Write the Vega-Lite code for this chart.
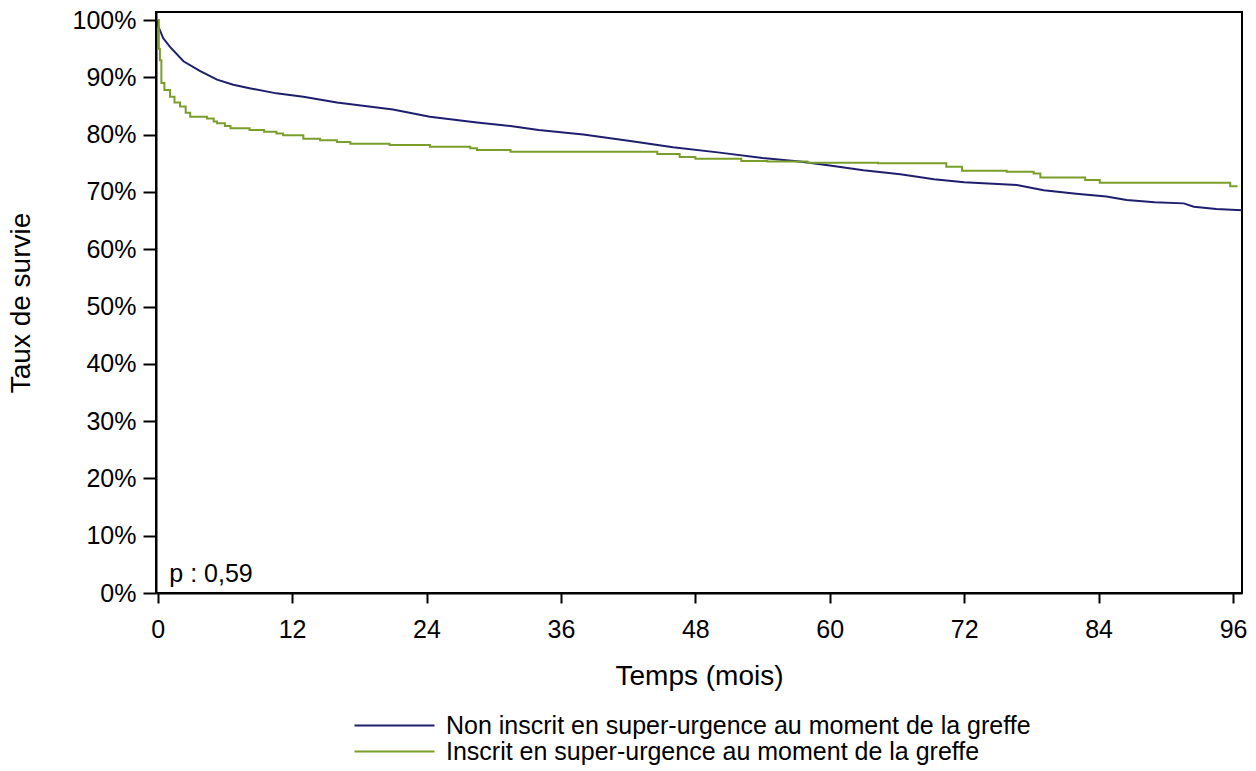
{
  "$schema": "https://vega.github.io/schema/vega-lite/v6.json",
  "autosize": "none",
  "width": 1086,
  "height": 581,
  "padding": {"left": 156, "top": 12, "right": 14, "bottom": 178},
  "background": "white",
  "config": {
    "font": "Liberation Sans",
    "view": {"stroke": "#000", "strokeWidth": 2},
    "axis": {
      "domainColor": "#000", "domainWidth": 2, "tickColor": "#000", "tickWidth": 2,
      "labelColor": "#000", "titleColor": "#000", "labelFont": "Liberation Sans", "titleFont": "Liberation Sans",
      "labelFontSize": 25, "titleFontSize": 28, "titleFontWeight": "normal", "grid": false
    },
    "legend": {"labelFont": "Liberation Sans", "labelColor": "#000"}
  },
  "datasets": {
    "courbes": [
      {"t": 0, "s": 1.0, "groupe": "Non inscrit en super-urgence au moment de la greffe"},
      {"t": 0.05, "s": 0.989, "groupe": "Non inscrit en super-urgence au moment de la greffe"},
      {"t": 0.5, "s": 0.968, "groupe": "Non inscrit en super-urgence au moment de la greffe"},
      {"t": 1.1, "s": 0.953, "groupe": "Non inscrit en super-urgence au moment de la greffe"},
      {"t": 2.3, "s": 0.928, "groupe": "Non inscrit en super-urgence au moment de la greffe"},
      {"t": 3.8, "s": 0.911, "groupe": "Non inscrit en super-urgence au moment de la greffe"},
      {"t": 5.3, "s": 0.896, "groupe": "Non inscrit en super-urgence au moment de la greffe"},
      {"t": 6.75, "s": 0.887, "groupe": "Non inscrit en super-urgence au moment de la greffe"},
      {"t": 8.2, "s": 0.881, "groupe": "Non inscrit en super-urgence au moment de la greffe"},
      {"t": 10.6, "s": 0.872, "groupe": "Non inscrit en super-urgence au moment de la greffe"},
      {"t": 13, "s": 0.866, "groupe": "Non inscrit en super-urgence au moment de la greffe"},
      {"t": 16, "s": 0.856, "groupe": "Non inscrit en super-urgence au moment de la greffe"},
      {"t": 18.5, "s": 0.85, "groupe": "Non inscrit en super-urgence au moment de la greffe"},
      {"t": 21, "s": 0.844, "groupe": "Non inscrit en super-urgence au moment de la greffe"},
      {"t": 24.3, "s": 0.831, "groupe": "Non inscrit en super-urgence au moment de la greffe"},
      {"t": 28.5, "s": 0.821, "groupe": "Non inscrit en super-urgence au moment de la greffe"},
      {"t": 31.5, "s": 0.815, "groupe": "Non inscrit en super-urgence au moment de la greffe"},
      {"t": 34, "s": 0.808, "groupe": "Non inscrit en super-urgence au moment de la greffe"},
      {"t": 38, "s": 0.8, "groupe": "Non inscrit en super-urgence au moment de la greffe"},
      {"t": 42.5, "s": 0.788, "groupe": "Non inscrit en super-urgence au moment de la greffe"},
      {"t": 46, "s": 0.778, "groupe": "Non inscrit en super-urgence au moment de la greffe"},
      {"t": 50, "s": 0.769, "groupe": "Non inscrit en super-urgence au moment de la greffe"},
      {"t": 54, "s": 0.759, "groupe": "Non inscrit en super-urgence au moment de la greffe"},
      {"t": 57.3, "s": 0.753, "groupe": "Non inscrit en super-urgence au moment de la greffe"},
      {"t": 60, "s": 0.746, "groupe": "Non inscrit en super-urgence au moment de la greffe"},
      {"t": 63, "s": 0.738, "groupe": "Non inscrit en super-urgence au moment de la greffe"},
      {"t": 66.3, "s": 0.731, "groupe": "Non inscrit en super-urgence au moment de la greffe"},
      {"t": 69.3, "s": 0.722, "groupe": "Non inscrit en super-urgence au moment de la greffe"},
      {"t": 72, "s": 0.717, "groupe": "Non inscrit en super-urgence au moment de la greffe"},
      {"t": 76.7, "s": 0.712, "groupe": "Non inscrit en super-urgence au moment de la greffe"},
      {"t": 79.1, "s": 0.703, "groupe": "Non inscrit en super-urgence au moment de la greffe"},
      {"t": 82, "s": 0.697, "groupe": "Non inscrit en super-urgence au moment de la greffe"},
      {"t": 84.7, "s": 0.692, "groupe": "Non inscrit en super-urgence au moment de la greffe"},
      {"t": 86.5, "s": 0.686, "groupe": "Non inscrit en super-urgence au moment de la greffe"},
      {"t": 89, "s": 0.682, "groupe": "Non inscrit en super-urgence au moment de la greffe"},
      {"t": 91.6, "s": 0.68, "groupe": "Non inscrit en super-urgence au moment de la greffe"},
      {"t": 92.5, "s": 0.674, "groupe": "Non inscrit en super-urgence au moment de la greffe"},
      {"t": 94.5, "s": 0.67, "groupe": "Non inscrit en super-urgence au moment de la greffe"},
      {"t": 96.8, "s": 0.668, "groupe": "Non inscrit en super-urgence au moment de la greffe"},
      {"t": 0, "s": 1.0, "groupe": "Inscrit en super-urgence au moment de la greffe"},
      {"t": 0.1, "s": 0.95, "groupe": "Inscrit en super-urgence au moment de la greffe"},
      {"t": 0.2, "s": 0.93, "groupe": "Inscrit en super-urgence au moment de la greffe"},
      {"t": 0.33, "s": 0.89, "groupe": "Inscrit en super-urgence au moment de la greffe"},
      {"t": 0.6, "s": 0.878, "groupe": "Inscrit en super-urgence au moment de la greffe"},
      {"t": 1.1, "s": 0.866, "groupe": "Inscrit en super-urgence au moment de la greffe"},
      {"t": 1.5, "s": 0.856, "groupe": "Inscrit en super-urgence au moment de la greffe"},
      {"t": 2.0, "s": 0.849, "groupe": "Inscrit en super-urgence au moment de la greffe"},
      {"t": 2.5, "s": 0.838, "groupe": "Inscrit en super-urgence au moment de la greffe"},
      {"t": 2.9, "s": 0.831, "groupe": "Inscrit en super-urgence au moment de la greffe"},
      {"t": 4.4, "s": 0.828, "groupe": "Inscrit en super-urgence au moment de la greffe"},
      {"t": 5.0, "s": 0.823, "groupe": "Inscrit en super-urgence au moment de la greffe"},
      {"t": 5.3, "s": 0.82, "groupe": "Inscrit en super-urgence au moment de la greffe"},
      {"t": 6.0, "s": 0.815, "groupe": "Inscrit en super-urgence au moment de la greffe"},
      {"t": 6.5, "s": 0.811, "groupe": "Inscrit en super-urgence au moment de la greffe"},
      {"t": 8.2, "s": 0.808, "groupe": "Inscrit en super-urgence au moment de la greffe"},
      {"t": 9.5, "s": 0.805, "groupe": "Inscrit en super-urgence au moment de la greffe"},
      {"t": 10.6, "s": 0.802, "groupe": "Inscrit en super-urgence au moment de la greffe"},
      {"t": 11.2, "s": 0.799, "groupe": "Inscrit en super-urgence au moment de la greffe"},
      {"t": 13, "s": 0.793, "groupe": "Inscrit en super-urgence au moment de la greffe"},
      {"t": 14.5, "s": 0.79, "groupe": "Inscrit en super-urgence au moment de la greffe"},
      {"t": 16, "s": 0.787, "groupe": "Inscrit en super-urgence au moment de la greffe"},
      {"t": 17.2, "s": 0.784, "groupe": "Inscrit en super-urgence au moment de la greffe"},
      {"t": 20.7, "s": 0.782, "groupe": "Inscrit en super-urgence au moment de la greffe"},
      {"t": 24.3, "s": 0.779, "groupe": "Inscrit en super-urgence au moment de la greffe"},
      {"t": 27.9, "s": 0.776, "groupe": "Inscrit en super-urgence au moment de la greffe"},
      {"t": 28.5, "s": 0.773, "groupe": "Inscrit en super-urgence au moment de la greffe"},
      {"t": 31.5, "s": 0.77, "groupe": "Inscrit en super-urgence au moment de la greffe"},
      {"t": 44.6, "s": 0.766, "groupe": "Inscrit en super-urgence au moment de la greffe"},
      {"t": 46.6, "s": 0.761, "groupe": "Inscrit en super-urgence au moment de la greffe"},
      {"t": 48, "s": 0.758, "groupe": "Inscrit en super-urgence au moment de la greffe"},
      {"t": 52.1, "s": 0.754, "groupe": "Inscrit en super-urgence au moment de la greffe"},
      {"t": 54.4, "s": 0.753, "groupe": "Inscrit en super-urgence au moment de la greffe"},
      {"t": 58, "s": 0.751, "groupe": "Inscrit en super-urgence au moment de la greffe"},
      {"t": 64.3, "s": 0.75, "groupe": "Inscrit en super-urgence au moment de la greffe"},
      {"t": 70.4, "s": 0.744, "groupe": "Inscrit en super-urgence au moment de la greffe"},
      {"t": 71.8, "s": 0.737, "groupe": "Inscrit en super-urgence au moment de la greffe"},
      {"t": 75.8, "s": 0.735, "groupe": "Inscrit en super-urgence au moment de la greffe"},
      {"t": 78.2, "s": 0.732, "groupe": "Inscrit en super-urgence au moment de la greffe"},
      {"t": 78.8, "s": 0.725, "groupe": "Inscrit en super-urgence au moment de la greffe"},
      {"t": 82.8, "s": 0.721, "groupe": "Inscrit en super-urgence au moment de la greffe"},
      {"t": 84.1, "s": 0.716, "groupe": "Inscrit en super-urgence au moment de la greffe"},
      {"t": 95.75, "s": 0.71, "groupe": "Inscrit en super-urgence au moment de la greffe"},
      {"t": 96.4, "s": 0.71, "groupe": "Inscrit en super-urgence au moment de la greffe"}
    ],
    "annot": [{"t": 1.04, "s": 0.034, "txt": "p : 0,59"}]
  },
  "layer": [
    {
      "data": {"name": "courbes"},
      "transform": [{"filter": "datum.groupe === 'Non inscrit en super-urgence au moment de la greffe'"}],
      "mark": {"type": "line", "strokeWidth": 2, "interpolate": "linear", "clip": true},
      "encoding": {
        "x": {"field": "t", "type": "quantitative", "scale": {"domain": [-0.15, 96.8], "nice": false, "zero": false},
          "axis": {"values": [0, 12, 24, 36, 48, 60, 72, 84, 96], "title": "Temps (mois)", "tickSize": 10, "labelPadding": 14, "titlePadding": 20}},
        "y": {"field": "s", "type": "quantitative", "scale": {"domain": [0, 1.014], "nice": false},
          "axis": {"values": [0, 0.1, 0.2, 0.3, 0.4, 0.5, 0.6, 0.7, 0.8, 0.9, 1.0], "format": ".0%", "title": "Taux de survie", "tickSize": 13, "labelPadding": 7, "titlePadding": 37}},
        "color": {"field": "groupe", "type": "nominal",
          "scale": {"domain": ["Non inscrit en super-urgence au moment de la greffe", "Inscrit en super-urgence au moment de la greffe"], "range": ["#1e1e6e", "#7a9e2a"]},
          "legend": {"title": null, "orient": "none", "legendX": 226, "legendY": 701, "symbolType": "M-4,0H4", "symbolSize": 400, "symbolStrokeWidth": 2, "labelFontSize": 25, "labelOffset": 39, "rowPadding": -4, "padding": 0, "labelLimit": 900}}
      }
    },
    {
      "data": {"name": "courbes"},
      "transform": [{"filter": "datum.groupe === 'Inscrit en super-urgence au moment de la greffe'"}],
      "mark": {"type": "line", "strokeWidth": 2, "interpolate": "step-after", "clip": true},
      "encoding": {
        "x": {"field": "t", "type": "quantitative"},
        "y": {"field": "s", "type": "quantitative"},
        "color": {"field": "groupe", "type": "nominal"}
      }
    },
    {
      "data": {"name": "annot"},
      "mark": {"type": "text", "align": "left", "baseline": "middle", "fontSize": 25, "font": "Liberation Sans", "color": "#000"},
      "encoding": {
        "x": {"field": "t", "type": "quantitative"},
        "y": {"field": "s", "type": "quantitative"},
        "text": {"field": "txt"}
      }
    }
  ]
}
